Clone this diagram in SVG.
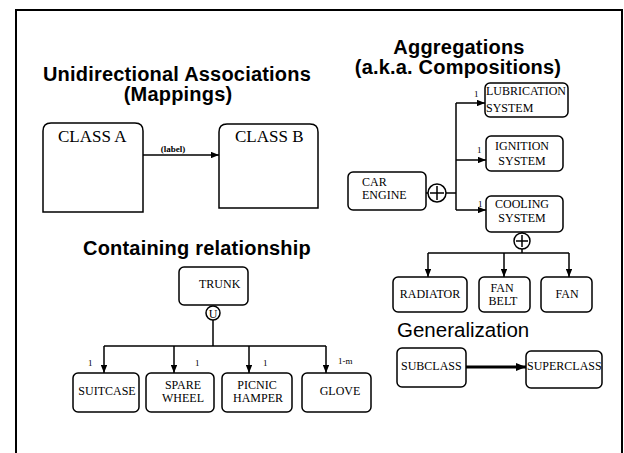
<svg xmlns="http://www.w3.org/2000/svg" width="624" height="453" viewBox="0 0 624 453">
  <defs>
    <marker id="arrow" viewBox="0 0 10 8" refX="10" refY="4" markerWidth="8" markerHeight="6.4" markerUnits="userSpaceOnUse" orient="auto">
      <path d="M0,0 L10,4 L0,8 Z" fill="#000"/>
    </marker>
    <marker id="arrowBig" viewBox="0 0 10 8" refX="10" refY="4" markerWidth="10" markerHeight="8" markerUnits="userSpaceOnUse" orient="auto">
      <path d="M0,0 L10,4 L0,8 Z" fill="#000"/>
    </marker>
  </defs>
  <style>
    .title { font-family: "Liberation Sans", Arial, sans-serif; font-size: 20px; letter-spacing: 0.2px; font-weight: bold; fill: #000; text-anchor: middle; }
    .title2 { font-family: "Liberation Sans", Arial, sans-serif; font-size: 20.5px; fill: #000; }
    .box { fill: #fff; stroke: #000; stroke-width: 1.5; }
    .lbl { font-family: "Liberation Serif", "Times New Roman", serif; font-size: 12px; fill: #000; }
    .mid { text-anchor: middle; }
    .big { font-family: "Liberation Serif", "Times New Roman", serif; font-size: 17px; fill: #000; }
    .mult { font-family: "Liberation Serif", "Times New Roman", serif; font-size: 9px; fill: #000; }
    .line { fill: none; stroke: #000; stroke-width: 1.5; }
    .ring { fill: #fff; stroke: #000; stroke-width: 1.5; }
  </style>

  <rect width="624" height="453" fill="#fff"/>
  <!-- page frame -->
  <path d="M16,453 V10 H622 V453" fill="none" stroke="#000" stroke-width="2"/>

  <!-- section titles -->
  <text class="title" x="177" y="81">Unidirectional Associations</text>
  <text class="title" x="178" y="101">(Mappings)</text>
  <text class="title" x="459" y="54">Aggregations</text>
  <text class="title" x="458" y="74">(a.k.a. Compositions)</text>
  <text class="title" x="197" y="255">Containing relationship</text>
  <text class="title2" x="397" y="337">Generalization</text>

  <!-- connectors -->
  <g id="connectors">
    <!-- association -->
    <line class="line" x1="143" y1="155" x2="219" y2="155" marker-end="url(#arrow)"/>
    <text class="mult" x="173" y="152" text-anchor="middle" font-size="7.5" font-weight="bold">(label)</text>

    <!-- car engine aggregation -->
    <line class="line" x1="426" y1="193" x2="428" y2="193"/>
    <line class="line" x1="446" y1="193" x2="456" y2="193"/>
    <line class="line" x1="456" y1="103" x2="456" y2="210"/>
    <line class="line" x1="456" y1="103" x2="485" y2="103" marker-end="url(#arrow)"/>
    <line class="line" x1="456" y1="160" x2="486" y2="160" marker-end="url(#arrow)"/>
    <line class="line" x1="456" y1="210" x2="486" y2="210" marker-end="url(#arrow)"/>
    <text class="mult" x="474" y="97">1</text>
    <text class="mult" x="477" y="153">1</text>
    <text class="mult" x="478" y="207">1</text>

    <!-- cooling system aggregation -->
    <line class="line" x1="522" y1="232" x2="522" y2="233"/>
    <line class="line" x1="522" y1="249" x2="522" y2="253"/>
    <line class="line" x1="428" y1="253" x2="569" y2="253"/>
    <line class="line" x1="428" y1="253" x2="428" y2="277" marker-end="url(#arrow)"/>
    <line class="line" x1="504" y1="253" x2="504" y2="277" marker-end="url(#arrow)"/>
    <line class="line" x1="569" y1="253" x2="569" y2="277" marker-end="url(#arrow)"/>

    <!-- trunk containment -->
    <line class="line" x1="213" y1="320" x2="213" y2="346"/>
    <line class="line" x1="104" y1="346" x2="326" y2="346"/>
    <line class="line" x1="104" y1="346" x2="104" y2="373" marker-end="url(#arrow)"/>
    <line class="line" x1="174" y1="346" x2="174" y2="373" marker-end="url(#arrow)"/>
    <line class="line" x1="249" y1="346" x2="249" y2="373" marker-end="url(#arrow)"/>
    <line class="line" x1="326" y1="346" x2="326" y2="373" marker-end="url(#arrow)"/>
    <text class="mult" x="88" y="366" font-size="8">1</text>
    <text class="mult" x="195" y="366" font-size="8">1</text>
    <text class="mult" x="263" y="366" font-size="8">1</text>
    <text class="mult" x="338" y="364" font-size="6.5">1-m</text>

    <!-- generalization -->
    <line x1="466" y1="367" x2="526" y2="367" stroke="#000" stroke-width="3" marker-end="url(#arrowBig)"/>
  </g>

  <!-- association classes -->
  <g id="class-a">
    <path class="box" d="M43,212 V131 Q43,123 51,123 H135 Q143,123 143,131 V212 Z"/>
    <text class="big" x="58" y="142">CLASS A</text>
  </g>
  <g id="class-b">
    <path class="box" d="M219,208 V132 Q219,124 227,124 H310 Q318,124 318,132 V208 Z"/>
    <text class="big" x="235" y="142">CLASS B</text>
  </g>

  <!-- aggregation -->
  <g id="car-engine">
    <rect class="box" x="348" y="172" width="78" height="38" rx="5"/>
    <text class="lbl" x="362" y="186">CAR</text>
    <text class="lbl" x="362" y="199">ENGINE</text>
  </g>
  <g id="engine-plus">
    <circle class="ring" cx="437" cy="193" r="9"/>
    <path class="line" d="M437,186 V200 M430,193 H444"/>
  </g>
  <g id="lubrication-system">
    <rect class="box" x="485" y="83" width="83" height="34" rx="5"/>
    <text class="lbl" x="486" y="95">LUBRICATION</text>
    <text class="lbl" x="486" y="112">SYSTEM</text>
  </g>
  <g id="ignition-system">
    <rect class="box" x="486" y="136" width="77" height="35" rx="5"/>
    <text class="lbl mid" x="522" y="150">IGNITION</text>
    <text class="lbl mid" x="522" y="165">SYSTEM</text>
  </g>
  <g id="cooling-system">
    <rect class="box" x="486" y="196" width="77" height="36" rx="5"/>
    <text class="lbl mid" x="522" y="208">COOLING</text>
    <text class="lbl mid" x="522" y="222">SYSTEM</text>
  </g>
  <g id="cooling-plus">
    <circle class="ring" cx="522" cy="241" r="8"/>
    <path class="line" d="M522,235 V247 M516,241 H528"/>
  </g>
  <g id="radiator">
    <rect class="box" x="393" y="277" width="74" height="35" rx="5"/>
    <text class="lbl mid" x="430" y="298">RADIATOR</text>
  </g>
  <g id="fan-belt">
    <rect class="box" x="479" y="277" width="51" height="35" rx="5"/>
    <text class="lbl mid" x="502" y="292">FAN</text>
    <text class="lbl mid" x="503" y="305">BELT</text>
  </g>
  <g id="fan">
    <rect class="box" x="541" y="277" width="51" height="35" rx="5"/>
    <text class="lbl mid" x="567" y="298">FAN</text>
  </g>

  <!-- generalization -->
  <g id="subclass">
    <rect class="box" x="397" y="348" width="69" height="39" rx="5"/>
    <text class="lbl" x="401" y="370">SUBCLASS</text>
  </g>
  <g id="superclass">
    <rect class="box" x="526" y="351" width="76" height="37" rx="5"/>
    <text class="lbl" x="527" y="370">SUPERCLASS</text>
  </g>

  <!-- containment -->
  <g id="trunk">
    <rect class="box" x="179" y="267" width="69" height="38" rx="5"/>
    <text class="lbl" x="199" y="288">TRUNK</text>
  </g>
  <g id="trunk-u">
    <circle class="ring" cx="213" cy="313" r="7"/>
    <text class="lbl mid" x="213" y="317.5" font-size="11">U</text>
  </g>
  <g id="suitcase">
    <rect class="box" x="73" y="373" width="66" height="39" rx="5"/>
    <text class="lbl mid" x="107" y="395">SUITCASE</text>
  </g>
  <g id="spare-wheel">
    <rect class="box" x="146" y="373" width="68" height="39" rx="5"/>
    <text class="lbl mid" x="183" y="389">SPARE</text>
    <text class="lbl mid" x="183" y="402">WHEEL</text>
  </g>
  <g id="picnic-hamper">
    <rect class="box" x="222" y="373" width="70" height="39" rx="5"/>
    <text class="lbl mid" x="257" y="389">PICNIC</text>
    <text class="lbl mid" x="258" y="402">HAMPER</text>
  </g>
  <g id="glove">
    <rect class="box" x="302" y="373" width="69" height="39" rx="5"/>
    <text class="lbl mid" x="340" y="395">GLOVE</text>
  </g>
</svg>
